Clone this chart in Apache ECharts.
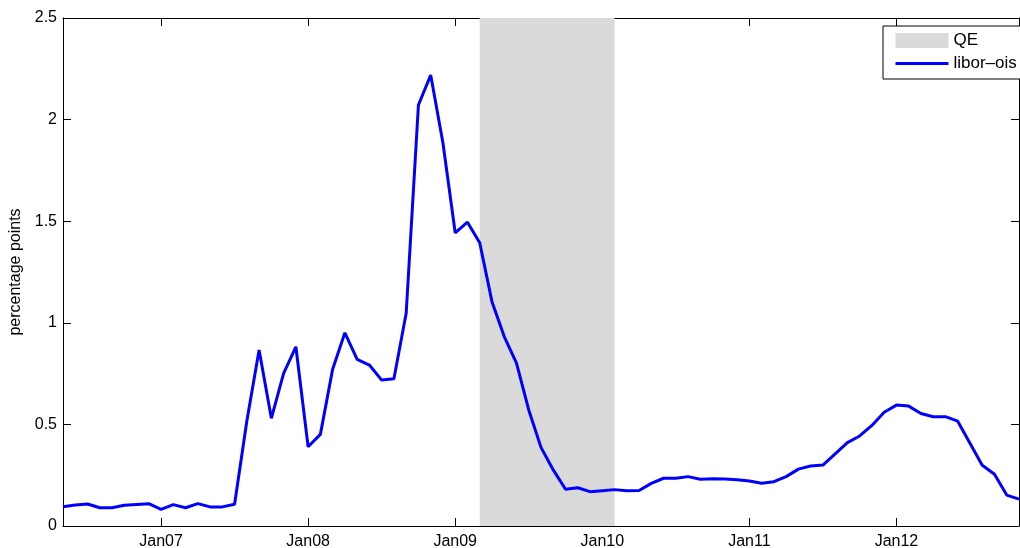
<!DOCTYPE html>
<html>
<head>
<meta charset="utf-8">
<script src="https://cdn.jsdelivr.net/npm/echarts@6/dist/echarts.min.js"></script>
<style>
  html, body { margin: 0; padding: 0; background: #ffffff; }
  #chart { width: 1020px; height: 548px; }
</style>
</head>
<body>
<div id="chart"></div>
<script>
// Monthly LIBOR-OIS spread in percentage points, first value is May 2006, last is Nov 2012
const firstMonth = { year: 2006, month: 5 };
const liborOis = [
  0.095, 0.103, 0.108, 0.090, 0.090, 0.102, 0.106, 0.110,                          // 2006 May-Dec
  0.082, 0.105, 0.090, 0.110, 0.094, 0.094, 0.107, 0.517, 0.866, 0.530, 0.751, 0.882, // 2007
  0.390, 0.451, 0.771, 0.951, 0.820, 0.792, 0.718, 0.725, 1.047, 2.072, 2.219, 1.885, // 2008
  1.443, 1.495, 1.394, 1.104, 0.932, 0.801, 0.571, 0.387, 0.276, 0.181, 0.188, 0.169, // 2009
  0.174, 0.179, 0.174, 0.175, 0.210, 0.235, 0.235, 0.243, 0.230, 0.233, 0.231, 0.228, // 2010
  0.221, 0.210, 0.218, 0.243, 0.280, 0.295, 0.300, 0.355, 0.410, 0.443, 0.495, 0.560, // 2011
  0.595, 0.590, 0.554, 0.538, 0.538, 0.516, 0.407, 0.299, 0.255, 0.152, 0.132         // 2012 Jan-Nov
];

// Quantitative easing window (shaded)
const qeStart = { year: 2009, month: 3 };
const qeEnd = { year: 2010, month: 2 };

// Bottom axis ticks: every January
const xTickYears = [2007, 2008, 2009, 2010, 2011, 2012];
const xTickLabels = ['Jan07', 'Jan08', 'Jan09', 'Jan10', 'Jan11', 'Jan12'];

// Left axis
const yMin = 0, yMax = 2.5, yStep = 0.5;

const seriesNames = { qe: 'QE', spread: 'libor\u2013ois' };

// months counted from Jan 2006
const monthIndex = (y, m) => (y - 2006) * 12 + (m - 1);
const x0 = monthIndex(firstMonth.year, firstMonth.month);
const points = liborOis.map((v, i) => [x0 + i, v]);
const xMin = x0, xMax = x0 + liborOis.length - 1;
const xTicks = xTickYears.map(y => monthIndex(y, 1));
const labelFor = {};
xTicks.forEach((t, i) => { labelFor[t] = xTickLabels[i]; });

const font = 'Liberation Sans, Arial, Helvetica, sans-serif';
const black = '#000000';
const blue = '#0000ff';
const shade = '#dadada';

const chart = echarts.init(document.getElementById('chart'), null, { renderer: 'canvas' });

chart.setOption({
  animation: false,
  backgroundColor: '#ffffff',
  textStyle: { fontFamily: font, color: black },
  grid: { left: 63, right: 1, top: 18, bottom: 22, containLabel: false, outerBoundsMode: 'none' },
  legend: {
    orient: 'vertical',
    left: 883,
    top: 26,
    padding: [6, 20, 7, 11],
    itemWidth: 53,
    itemHeight: 15,
    itemGap: 6,
    backgroundColor: '#ffffff',
    borderColor: black,
    borderWidth: 1,
    textStyle: { fontFamily: font, fontSize: 17, color: black },
    data: [
      { name: seriesNames.qe, icon: 'rect', itemStyle: { color: shade } },
      {
        name: seriesNames.spread,
        itemStyle: { opacity: 0 },
        lineStyle: { color: blue, width: 3, opacity: 1 }
      }
    ]
  },
  xAxis: [
    {
      type: 'value', position: 'bottom', min: xMin, max: xMax,
      axisLine: { show: true, lineStyle: { color: black, width: 1 } },
      axisTick: { show: true, inside: true, length: 8, customValues: xTicks, lineStyle: { color: black } },
      axisLabel: {
        show: true, margin: 8, customValues: xTicks,
        fontFamily: font, fontSize: 16, color: black,
        formatter: v => labelFor[v] || ''
      },
      splitLine: { show: false }
    },
    {
      type: 'value', position: 'top', min: xMin, max: xMax,
      axisLine: { show: true, onZero: false, lineStyle: { color: black, width: 1 } },
      axisTick: { show: true, inside: true, length: 8, customValues: xTicks, lineStyle: { color: black } },
      axisLabel: { show: false },
      splitLine: { show: false }
    }
  ],
  yAxis: [
    {
      type: 'value', position: 'left', min: yMin, max: yMax, interval: yStep,
      name: 'percentage points', nameLocation: 'middle', nameRotate: 90, nameGap: 30,
      nameTextStyle: { fontFamily: font, fontSize: 16, color: black },
      axisLine: { show: true, lineStyle: { color: black, width: 1 } },
      axisTick: { show: true, inside: true, length: 8, lineStyle: { color: black } },
      axisLabel: { show: true, margin: 6, fontFamily: font, fontSize: 16, color: black },
      splitLine: { show: false }
    },
    {
      type: 'value', position: 'right', min: yMin, max: yMax, interval: yStep,
      axisLine: { show: true, onZero: false, lineStyle: { color: black, width: 1 } },
      axisTick: { show: true, inside: true, length: 8, lineStyle: { color: black } },
      axisLabel: { show: false },
      splitLine: { show: false }
    }
  ],
  series: [
    {
      name: seriesNames.qe,
      type: 'line',
      xAxisIndex: 0, yAxisIndex: 0,
      data: [],
      itemStyle: { color: shade },
      markArea: {
        silent: true,
        itemStyle: { color: shade, opacity: 1 },
        data: [[
          { xAxis: monthIndex(qeStart.year, qeStart.month) },
          { xAxis: monthIndex(qeEnd.year, qeEnd.month) }
        ]]
      },
      z: 1
    },
    {
      name: seriesNames.spread,
      type: 'line',
      xAxisIndex: 0, yAxisIndex: 0,
      data: points,
      symbol: 'none',
      smooth: false,
      lineStyle: { color: blue, width: 3 },
      itemStyle: { color: blue },
      z: 3
    }
  ]
});
</script>
</body>
</html>
